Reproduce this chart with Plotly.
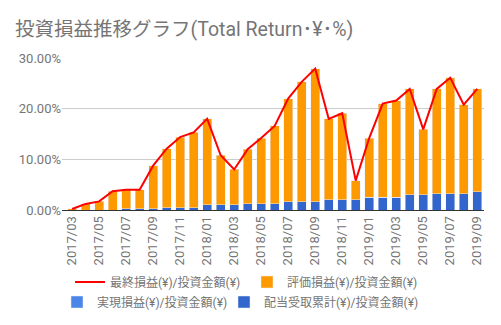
import plotly.graph_objects as go

months = ["2017/03","2017/04","2017/05","2017/06","2017/07","2017/08","2017/09","2017/10","2017/11","2017/12",
          "2018/01","2018/02","2018/03","2018/04","2018/05","2018/06","2018/07","2018/08","2018/09","2018/10",
          "2018/11","2018/12","2019/01","2019/02","2019/03","2019/04","2019/05","2019/06","2019/07","2019/08","2019/09"]

# percent values
total_return = [0.2, 1.2, 1.7, 3.7, 4.0, 4.0, 8.75, 12.1, 14.4, 15.3,
                18.0, 10.8, 8.0, 12.0, 14.2, 16.6, 22.0, 25.3, 27.9, 18.0,
                19.1, 5.8, 14.2, 21.0, 21.6, 23.9, 15.9, 23.9, 26.1, 20.8, 23.9]
dividend = [0, 0, 0, 0, 0.2, 0.2, 0.2, 0.46, 0.46, 0.46,
            1.05, 1.05, 1.05, 1.25, 1.25, 1.25, 1.65, 1.65, 1.65, 2.04,
            2.04, 2.04, 2.5, 2.5, 2.5, 3.0, 3.0, 3.2, 3.2, 3.2, 3.6]
realized = [0.0] * len(months)
unrealized = [t - d - r for t, d, r in zip(total_return, dividend, realized)]

tick_labels = months[::2]
y_ticks = [0, 10, 20, 30]

def frac(v):
    return [x / 100 for x in v]

CJK = "Roboto, 'Noto Sans CJK JP', sans-serif"
GREY = "#757575"

fig = go.Figure()
fig.add_trace(go.Bar(x=months, y=frac(dividend), name="配当受取累計(¥)/投資金額(¥)",
                     marker_color="#3366cc", legend="legend4"))
fig.add_trace(go.Bar(x=months, y=frac(realized), name="実現損益(¥)/投資金額(¥)",
                     marker_color="#4a86e8", legend="legend3"))
fig.add_trace(go.Bar(x=months, y=frac(unrealized), name="評価損益(¥)/投資金額(¥)",
                     marker_color="#ff9900", legend="legend2"))
fig.add_trace(go.Scatter(x=months, y=frac(total_return), name="最終損益(¥)/投資金額(¥)",
                         mode="lines", line=dict(color="#ff0000", width=2), legend="legend"))

leg_common = dict(orientation="h", xref="container", xanchor="left", yref="container",
                  yanchor="middle", font=dict(size=12, color=GREY, family=CJK),
                  bgcolor="rgba(0,0,0,0)")

fig.update_layout(
    width=501, height=325,
    margin=dict(l=62, r=17, t=58, b=115, autoexpand=False),
    barmode="stack", bargap=0.33,
    plot_bgcolor="white", paper_bgcolor="white",
    font=dict(family=CJK, color=GREY, size=12),
    title=dict(text="投資損益推移グラフ(Total Return･¥･%)", x=0.03, xanchor="left",
               y=1 - 29/325, yanchor="middle", yref="container",
               font=dict(size=19.5, color=GREY, family=CJK)),
    legend=dict(**leg_common, x=70/501, y=1 - 282/325),
    legend2=dict(**leg_common, x=247/501, y=1 - 282/325),
    legend3=dict(**leg_common, x=57/501, y=1 - 302/325),
    legend4=dict(**leg_common, x=224/501, y=1 - 302/325),
    showlegend=True,
)
fig.update_xaxes(type="category", tickmode="array", tickvals=tick_labels, ticktext=tick_labels,
                 tickangle=-90, range=[-0.75, 30.5], showgrid=False, showline=True, automargin=False,
                 linecolor="#333333", linewidth=1, ticks="", tickfont=dict(size=13, color=GREY))
fig.update_yaxes(range=[0, 0.30], tickvals=frac(y_ticks), tickformat=".2%", showgrid=True, automargin=False,
                 gridcolor="#cccccc", zeroline=False, ticks="", tickfont=dict(size=13, color=GREY))

fig.write_html("out.html")
